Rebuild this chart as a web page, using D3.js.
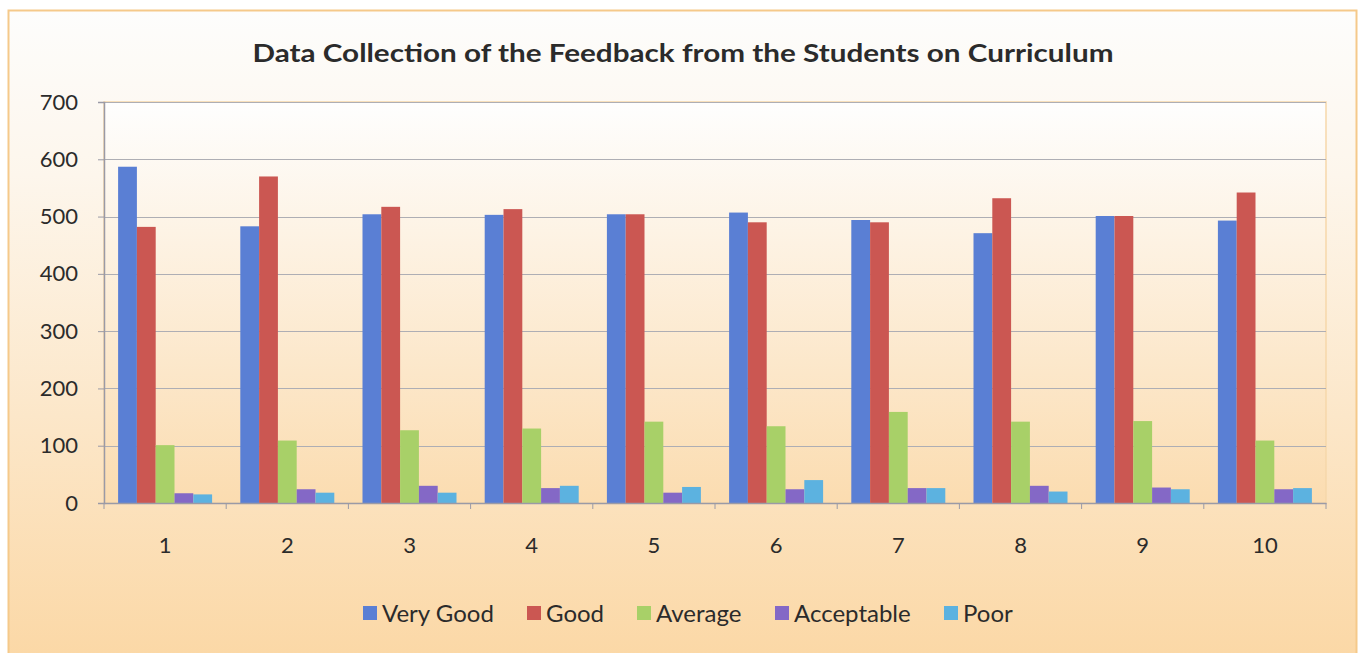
<!DOCTYPE html>
<html>
<head>
<meta charset="utf-8">
<script src="https://cdn.jsdelivr.net/npm/d3@7"></script>
<style>
  body { margin: 0; background: #ffffff; }
  text { font-family: Lato, "Open Sans", sans-serif; fill: #222; }
</style>
</head>
<body>
<script>
var width = 1362, height = 653;

var categories = ["1", "2", "3", "4", "5", "6", "7", "8", "9", "10"];
var seriesNames = ["Very Good", "Good", "Average", "Acceptable", "Poor"];
var veryGood   = [587, 483, 504, 503, 504, 507, 494, 471, 501, 493];
var good       = [482, 570, 517, 513, 504, 490, 490, 532, 501, 542];
var average    = [101, 109, 127, 130, 142, 134, 159, 142, 143, 109];
var acceptable = [17, 24, 30, 26, 18, 24, 26, 30, 27, 24];
var poor       = [15, 18, 18, 30, 28, 40, 26, 20, 24, 26];
var yTicks = [0, 100, 200, 300, 400, 500, 600, 700];

var seriesValues = [veryGood, good, average, acceptable, poor];
var colors = ["#5a7fd4", "#cb5752", "#a8d068", "#8468c6", "#5cb2e0"];

var plot = {left: 104, right: 1326, top: 102, bottom: 503};

var svg = d3.select("body")
.append("svg")
.attr("width", width)
.attr("height", height);

var defs = svg.append("defs")

var outerGrad = defs.append("linearGradient")
	.attr("id", "outerFill")
	.attr("x1", 0).attr("y1", 0).attr("x2", 0).attr("y2", 1)
outerGrad.append("stop").attr("offset", "0%").attr("stop-color", "#fdfdfc")
outerGrad.append("stop").attr("offset", "25%").attr("stop-color", "#fdf6ec")
outerGrad.append("stop").attr("offset", "100%").attr("stop-color", "#fbd7a4")

var plotGrad = defs.append("linearGradient")
	.attr("id", "plotFill")
	.attr("x1", 0).attr("y1", 0).attr("x2", 0).attr("y2", 1)
plotGrad.append("stop").attr("offset", "0%").attr("stop-color", "#fefefe")
plotGrad.append("stop").attr("offset", "100%").attr("stop-color", "#fbdcb0")

//chart area
svg.append("rect")
	.attr("x", 8.5)
	.attr("y", 10.5)
	.attr("width", 1348)
	.attr("height", 660)
	.attr("fill", "url(#outerFill)")
	.attr("stroke", "#f5c98a")
	.attr("stroke-width", 2)

//plot area
svg.append("rect")
	.attr("x", plot.left)
	.attr("y", plot.top)
	.attr("width", plot.right - plot.left)
	.attr("height", plot.bottom - plot.top)
	.attr("fill", "url(#plotFill)")
	.attr("stroke", "#f6d7aa")
	.attr("stroke-width", 1.5)

svg.append("text")
	.attr("x", 683)
	.attr("y", 62)
	.attr("text-anchor", "middle")
	.attr("font-size", 25)
	.attr("font-weight", "bold")
	.attr("textLength", 861)
	.attr("lengthAdjust", "spacingAndGlyphs")
	.style("fill", "#2b2b2b")
	.text("Data Collection of the Feedback from the Students on Curriculum")

var yScale = d3.scaleLinear()
	.domain([0, 700])
	.range([plot.bottom, plot.top])

var xScale = d3.scaleBand()
	.domain(categories)
	.range([plot.left, plot.right])

var innerScale = d3.scaleBand()
	.domain(seriesNames)
	.range([0, xScale.bandwidth()])
	.paddingInner(0)
	.paddingOuter(0.75)

//gridlines
svg.append("g")
	.selectAll("line")
	.data(yTicks.slice(1))
	.enter()
	.append("line")
	.attr("x1", plot.left)
	.attr("x2", plot.right)
	.attr("y1", function(d) { return Math.round(yScale(d)) + 0.5 })
	.attr("y2", function(d) { return Math.round(yScale(d)) + 0.5 })
	.attr("stroke", "#aeaeb4")
	.attr("stroke-width", 1.2)

//y axis
var yAxis = svg.append("g")
	.attr("transform", "translate(" + plot.left + ",0)")
	.call(d3.axisLeft(yScale).tickValues(yTicks).tickSize(6).tickPadding(20))
yAxis.select(".domain").attr("stroke", "#9a9aa6").attr("stroke-width", 1.5)
yAxis.selectAll(".tick line").attr("stroke", "#9a9aa6")
yAxis.selectAll(".tick text")
	.attr("font-size", 22)
	.attr("font-family", "Lato, sans-serif")
	.style("fill", "#2b2b2b")

//bars
var groups = svg.append("g")
	.selectAll("g")
	.data(seriesNames)
	.enter()
	.append("g")
	.attr("fill", function(d, i) { return colors[i] })

groups.each(function(name, si) {
	d3.select(this).selectAll("rect")
	.data(seriesValues[si])
	.enter()
	.append("rect")
	.attr("x", function(v, ci) { return xScale(categories[ci]) + innerScale(name) })
	.attr("width", innerScale.bandwidth())
	.attr("y", function(v) { return yScale(v) })
	.attr("height", function(v) { return yScale(0) - yScale(v) })
})

//x axis
var xAxis = svg.append("g")
	.attr("transform", "translate(0," + plot.bottom + ")")
	.call(d3.axisBottom(xScale).tickSize(0).tickPadding(34))
xAxis.select(".domain").attr("stroke", "#9a9aa6").attr("stroke-width", 1.5)
xAxis.selectAll(".tick text")
	.attr("font-size", 22)
	.attr("font-family", "Lato, sans-serif")
	.style("fill", "#2b2b2b")

//category separator ticks
svg.append("g")
	.selectAll("line")
	.data(categories.concat(["end"]))
	.enter()
	.append("line")
	.attr("x1", function(d, i) { return plot.left + i * xScale.step() })
	.attr("x2", function(d, i) { return plot.left + i * xScale.step() })
	.attr("y1", plot.bottom)
	.attr("y2", plot.bottom + 6)
	.attr("stroke", "#9a9aa6")

//legend
var legendX = [363, 527, 637, 775, 944];
var legend = svg.append("g")
	.selectAll("g")
	.data(seriesNames)
	.enter()
	.append("g")
	.attr("transform", function(d, i) { return "translate(" + legendX[i] + ",613)" })

legend.append("rect")
	.attr("x", 0)
	.attr("y", -7)
	.attr("width", 14)
	.attr("height", 14)
	.attr("fill", function(d, i) { return colors[i] })

legend.append("text")
	.attr("x", 19)
	.attr("y", 9)
	.attr("font-size", 24)
	.style("fill", "#2b2b2b")
	.text(function(d) { return d })
</script>
</body>
</html>
